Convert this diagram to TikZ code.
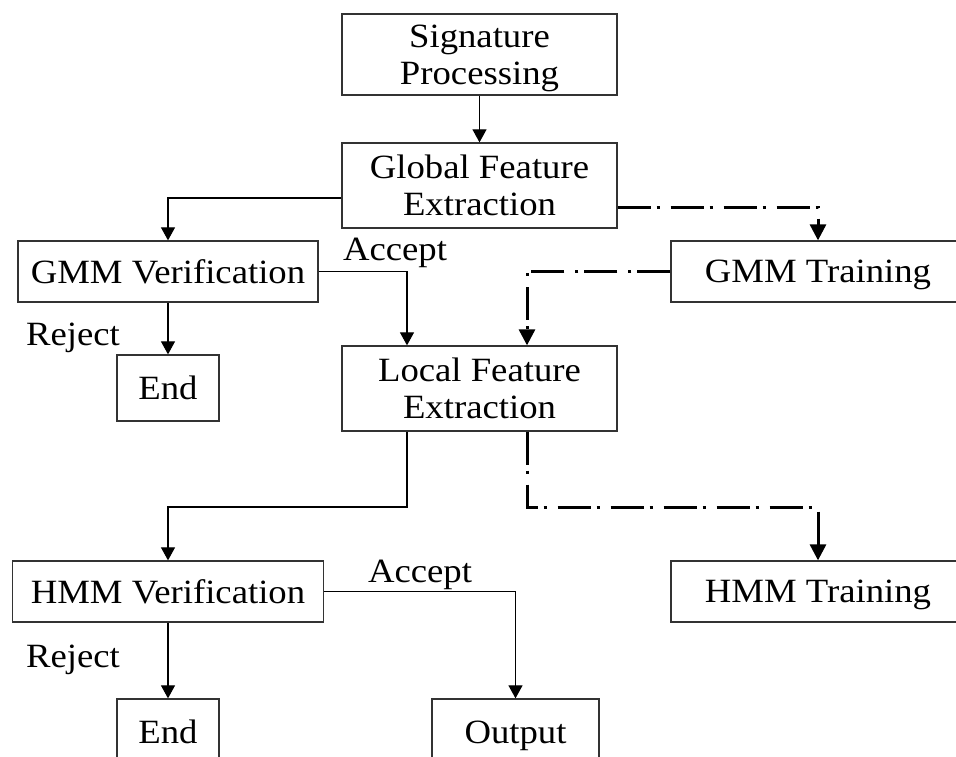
\documentclass[tikz,border=0pt]{standalone}
\usepackage{fontspec}
\setmainfont{Liberation Serif}[FakeStretch=1.08]
\usetikzlibrary{arrows.meta}

\tikzset{
  box/.style={draw=black!80, line width=1.3pt, inner sep=0pt, align=center,
    text depth=0pt, font=\fontsize{34}{36.7}\selectfont},
  lbl/.style={inner sep=0pt, anchor=base, font=\fontsize{34}{36.7}\selectfont},
  flow/.style={draw=black, line width=1.2pt,
    -{Triangle[width=14pt,length=13pt]}},
  train/.style={draw=black, line width=3pt,
    dash pattern=on 33pt off 6pt on 3pt off 11pt,
    -{Triangle[width=16pt,length=16pt]}}
}

\begin{document}
\begin{tikzpicture}[x=1pt,y=-1pt]
  \useasboundingbox (0,0) rectangle (956,757);
  \clip (0,0) rectangle (956,757);

  % process boxes
  \node[box, minimum width=275pt, minimum height=81pt] (sig)  at (479.5,54.5)  {Signature\\Processing};
  \node[box, minimum width=275pt, minimum height=85pt] (glob) at (479.5,185.5) {Global Feature\\Extraction};
  \node[box, minimum width=300pt, minimum height=61pt] (gmmv) at (168,271.5)   {GMM Verification};
  \node[box, minimum width=294pt, minimum height=61pt] (gmmt) at (818,271.5)   {GMM Training};
  \node[box, minimum width=102pt, minimum height=66pt] (end1) at (168,388)     {End};
  \node[box, minimum width=275pt, minimum height=85pt] (loc)  at (479.5,388.5) {Local Feature\\Extraction};
  \node[box, minimum width=311pt, minimum height=61pt] (hmmv) at (168,591.5)   {HMM Verification};
  \node[box, minimum width=294pt, minimum height=61pt] (hmmt) at (818,591.5)   {HMM Training};
  \node[box, minimum width=102pt, minimum height=66pt] (end2) at (168,732)     {End};
  \node[box, minimum width=167pt, minimum height=66pt] (out)  at (515.5,732)   {Output};

  % decision labels
  \node[lbl] (acc1) at (395,260) {Accept};
  \node[lbl] (rej1) at (73,345)  {Reject};
  \node[lbl] (acc2) at (420,582) {Accept};
  \node[lbl] (rej2) at (73,667)  {Reject};

  % bend points below the local feature box
  \coordinate (b1) at (407,507);
  \coordinate (b2) at (527,507);

  % verification flow
  \draw[flow] (sig.south) -- (glob.north);
  \draw[flow] ([yshift=-12.5pt]glob.west) -| (gmmv.north);
  \draw[flow] (gmmv.south) -- (end1.north);
  \draw[flow] (gmmv.east) -| (loc.north -| b1);
  \draw[flow] (loc.south -| b1) -- (b1) -| (hmmv.north);
  \draw[flow] (hmmv.south) -- (end2.north);
  \draw[flow] (hmmv.east) -| (out.north);

  % training flow
  \draw[train] ([yshift=-21.5pt]glob.east) -| (gmmt.north);
  \draw[train] (gmmt.west) -| (loc.north -| b2);
  \draw[train] (loc.south -| b2) -- (b2) -| (hmmt.north);
\end{tikzpicture}
\end{document}
